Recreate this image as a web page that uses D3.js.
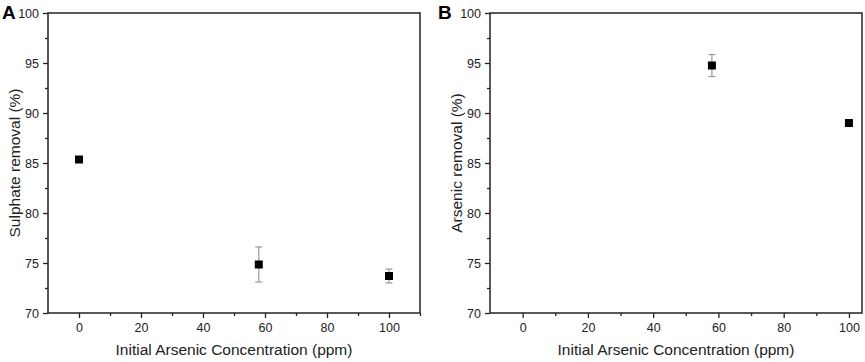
<!DOCTYPE html>
<html>
<head>
<meta charset="utf-8">
<script src="https://cdn.jsdelivr.net/npm/d3@7"></script>
<style>
  body { margin: 0; background: #fff; }
  text { font-family: Arial, "Liberation Sans", sans-serif; fill: #222; }
</style>
</head>
<body>
<div id="chart"></div>
<script>
// panel A: sulphate removal
const concA = [0, 58, 100];
const sulphate = [85.35, 74.85, 73.7];
const sulphateErr = [0, 1.75, 0.7];

// panel B: arsenic removal
const concB = [58, 100];
const arsenic = [94.75, 89.0];
const arsenicErr = [1.1, 0];

const xTicks = [0, 20, 40, 60, 80, 100];
const yTicks = [70, 75, 80, 85, 90, 95, 100];

const svg = d3.select("#chart")
  .append("svg")
  .attr("width", 865)
  .attr("height", 362);

function panel(opts) {
  const { left, right, top, bottom, xDomain, xs, ys, errs, yLabel, letter } = opts;
  const g = svg.append("g");

  const x = d3.scaleLinear().domain(xDomain).range([left, right]);
  const y = d3.scaleLinear().domain([70, 100]).range([bottom, top]);

  // minor ticks
  const xMinor = d3.range(-10, xDomain[1] + 0.1, 10).filter(v => v % 20 !== 0 && v > xDomain[0]);
  g.append("g")
    .attr("transform", `translate(0,${bottom})`)
    .call(d3.axisBottom(x).tickValues(xMinor).tickSize(3).tickFormat(""))
    .call(a => a.select(".domain").remove());
  g.append("g")
    .attr("transform", `translate(${left},0)`)
    .call(d3.axisLeft(y).tickValues(d3.range(72.5, 100, 5)).tickSize(3).tickFormat(""))
    .call(a => a.select(".domain").remove());

  g.append("g")
    .attr("transform", `translate(0,${bottom})`)
    .call(d3.axisBottom(x).tickValues(xTicks).tickSize(5).tickPadding(5))
    .call(a => a.select(".domain").remove());
  g.append("g")
    .attr("transform", `translate(${left},0)`)
    .call(d3.axisLeft(y).tickValues(yTicks).tickSize(5).tickPadding(4))
    .call(a => a.select(".domain").remove());
  g.selectAll(".tick line").attr("stroke", "#222").attr("stroke-width", 1.3);
  g.selectAll(".tick text").attr("font-size", 12.5).attr("fill", "#222")
    .style("font-family", "Arial, 'Liberation Sans', sans-serif");

  // frame
  g.append("rect")
    .attr("x", left).attr("y", top)
    .attr("width", right - left).attr("height", bottom - top)
    .attr("fill", "none").attr("stroke", "#222").attr("stroke-width", 1.5);

  const data = xs.map((d, i) => ({ x: d, y: ys[i], e: errs[i] }));
  const eb = g.append("g").attr("stroke", "#999").attr("stroke-width", 1.2);
  data.filter(d => d.e > 0).forEach(d => {
    eb.append("line").attr("x1", x(d.x)).attr("x2", x(d.x))
      .attr("y1", y(d.y + d.e)).attr("y2", y(d.y - d.e));
    [d.y + d.e, d.y - d.e].forEach(v => {
      eb.append("line").attr("x1", x(d.x) - 3.5).attr("x2", x(d.x) + 3.5)
        .attr("y1", y(v)).attr("y2", y(v));
    });
  });

  g.selectAll("rect.pt")
    .data(data)
    .join("rect")
    .attr("class", "pt")
    .attr("x", d => x(d.x) - 4)
    .attr("y", d => y(d.y) - 4)
    .attr("width", 8).attr("height", 8)
    .attr("fill", "#000");

  g.append("text")
    .attr("x", (left + right) / 2)
    .attr("y", 355)
    .attr("text-anchor", "middle")
    .attr("font-size", 15.5)
    .text("Initial Arsenic Concentration (ppm)");

  g.append("text")
    .attr("transform", `translate(${left - 28},${(top + bottom) / 2}) rotate(-90)`)
    .attr("text-anchor", "middle")
    .attr("font-size", 15.5)
    .text(yLabel);

  g.append("text")
    .attr("x", opts.letterX)
    .attr("y", 18.5)
    .attr("font-size", 19)
    .attr("font-weight", "bold")
    .style("fill", "#000")
    .text(letter);
}

panel({ left: 48, right: 420, top: 13, bottom: 313, xDomain: [-10, 110],
  xs: concA, ys: sulphate, errs: sulphateErr, yLabel: "Sulphate removal (%)", letter: "A", letterX: 2 });
panel({ left: 490, right: 862, top: 13, bottom: 313, xDomain: [-10, 104],
  xs: concB, ys: arsenic, errs: arsenicErr, yLabel: "Arsenic removal (%)", letter: "B", letterX: 438 });
</script>
</body>
</html>
